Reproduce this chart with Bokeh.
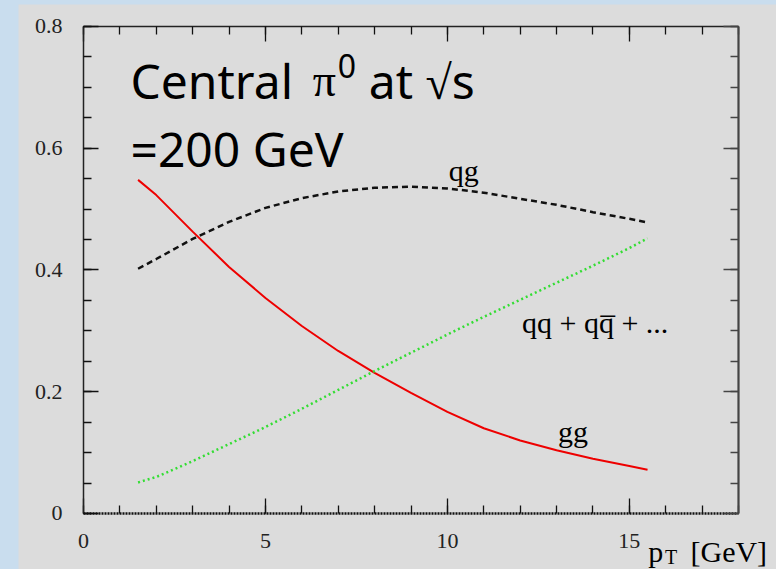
from bokeh.plotting import figure
from bokeh.models import Label, LinearAxis, FixedTicker, Range1d
from bokeh.layouts import column
from bokeh.embed import file_html
from bokeh.resources import INLINE

# Fraction of central pi0 production by partonic subprocess vs pT
pt = [1.5, 2, 3, 4, 5, 6, 7, 8, 9, 10, 11, 12, 13, 14, 15, 15.5]
frac_gg = [0.548, 0.523, 0.463, 0.405, 0.354, 0.308, 0.267, 0.231, 0.198, 0.167,
           0.140, 0.120, 0.104, 0.090, 0.078, 0.072]
frac_qg = [0.402, 0.418, 0.451, 0.479, 0.502, 0.518, 0.529, 0.535, 0.537, 0.534,
           0.527, 0.517, 0.507, 0.495, 0.484, 0.478]
frac_qq = [0.051, 0.060, 0.086, 0.114, 0.142, 0.172, 0.203, 0.234, 0.264, 0.294,
           0.323, 0.351, 0.379, 0.407, 0.436, 0.452]

x_major = [0, 5, 10, 15]
x_minor = list(range(0, 19))
y_major = [0, 0.2, 0.4, 0.6, 0.8]
y_minor = [round(0.05 * i, 2) for i in range(17)]
y_tick_labels = {0: "0", 0.2: "0.2", 0.4: "0.4", 0.6: "0.6", 0.8: "0.8"}

# axis box, and the whole drawing area around it (tick labels and titles live inside)
X_MIN, X_MAX = 0, 18
Y_MIN, Y_MAX = 0, 0.8
VIEW_X = (-1.786, 19.044)
VIEW_Y = (-0.0920, 0.8361)

PANEL = "#dcdcdc"
SERIF = "Liberation Serif"
SANS = "Noto Sans"

p = figure(width=758, height=565, x_range=Range1d(*VIEW_X), y_range=Range1d(*VIEW_Y),
           output_backend="svg", toolbar_location=None, min_border=0,
           background_fill_color=PANEL, border_fill_color=PANEL, outline_line_color=None)
p.margin = (4, 0, 0, 18)
p.xgrid.visible = False
p.ygrid.visible = False


def style_axis(ax, major, minor, show_labels):
    ax.ticker = FixedTicker(ticks=major, minor_ticks=minor)
    ax.major_tick_in = 15
    ax.major_tick_out = 0
    ax.minor_tick_in = 8
    ax.minor_tick_out = 0
    ax.major_tick_line_color = "#111111"
    ax.minor_tick_line_color = "#111111"
    ax.major_tick_line_width = 1.3
    ax.minor_tick_line_width = 1.3
    if show_labels:
        ax.major_label_text_font = SERIF
        ax.major_label_text_font_size = "22px"
        ax.major_label_text_color = "#222222"
        ax.major_label_standoff = 21
    else:
        ax.major_label_text_color = None
        ax.major_label_standoff = 0


xb = p.xaxis[0]
style_axis(xb, x_major, x_minor, True)
xb.fixed_location = Y_MIN
xb.bounds = (X_MIN, X_MAX)
xb.axis_line_color = "#111111"
xb.axis_line_width = 2.5
xb.axis_line_dash = "2 1"

yl = p.yaxis[0]
style_axis(yl, y_major, y_minor, True)
yl.major_label_overrides = y_tick_labels
yl.fixed_location = X_MIN
yl.bounds = (Y_MIN, Y_MAX)
yl.axis_line_color = "#222222"
yl.axis_line_width = 1.5

xt = LinearAxis(fixed_location=Y_MAX, bounds=(X_MIN, X_MAX))
style_axis(xt, x_major, x_minor, False)
xt.axis_line_color = "#222222"
xt.axis_line_width = 1.5
p.add_layout(xt, "above")

yr = LinearAxis(fixed_location=X_MAX, bounds=(Y_MIN, Y_MAX))
style_axis(yr, y_major, y_minor, False)
yr.axis_line_color = "#444444"
yr.axis_line_width = 2.2
yr.major_tick_line_color = "#444444"
yr.minor_tick_line_color = "#444444"
p.add_layout(yr, "right")

# Subprocess curves
p.line(pt, frac_gg, line_color="#ee0000", line_width=2)
p.line(pt, frac_qg, line_color="#111111", line_width=2.5, line_dash="6 4")
p.line(pt, frac_qq, line_color="#33dd33", line_width=2.5, line_dash="2 3")


def label(x, y, text, font, size):
    p.add_layout(Label(x=x, y=y, text=text, text_font=font, text_font_size=size,
                       text_color="#000000", text_baseline="alphabetic",
                       text_align="left"))


# Curve labels
label(10.04, 0.563, "qg", SERIF, "30px")
label(12.05, 0.313, "qq + qq\u0305 + ...", SERIF, "30px")
label(13.04, 0.135, "gg", SERIF, "30px")

# Title inside the frame
label(1.29, 0.711, "Central", SANS, "48px")
label(6.30, 0.711, "\u03c0", SERIF, "46px")
label(6.99, 0.735, "0", SANS, "32px")
label(7.84, 0.711, "at \u221as", SANS, "48px")
label(1.29, 0.600, "=200 GeV", SANS, "48px")

# x-axis title beside the last tick label
label(15.52, -0.063, "p", SERIF, "30px")
label(15.98, -0.071, "T", SERIF, "20px")
label(16.68, -0.063, "[GeV]", SERIF, "30px")

page = column(p, width=776, height=569, styles={"background-color": "#c9ddee"})
open("out.html", "w").write(file_html(page, INLINE))
